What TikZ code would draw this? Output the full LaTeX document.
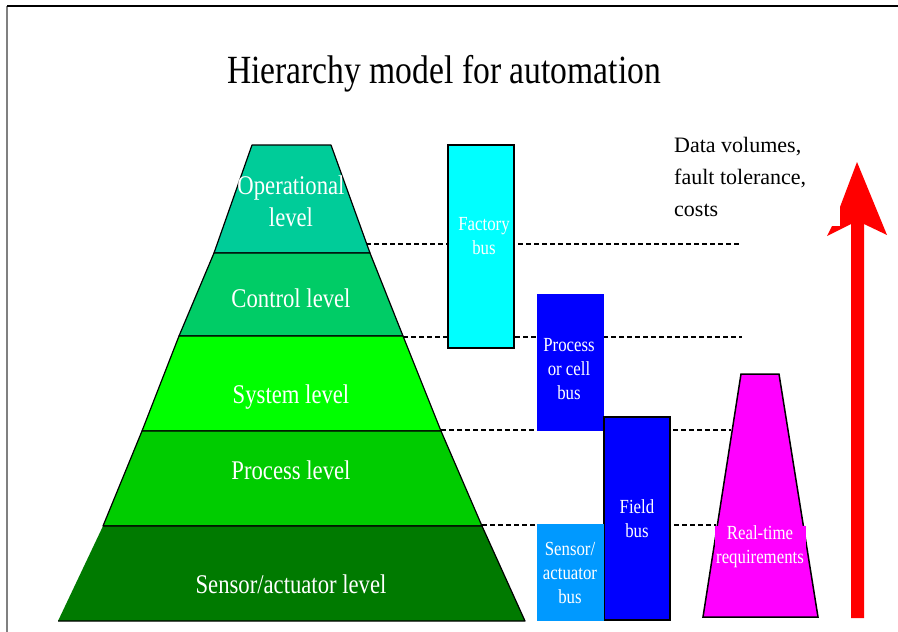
\documentclass[tikz,border=0pt]{standalone}
\usepackage{fontspec}
\setmainfont{Liberation Serif}
\newfontfamily\narrowfont[FakeStretch=0.84]{Liberation Serif}
\usetikzlibrary{positioning}

\definecolor{opgreen}{HTML}{00CC99}
\definecolor{ctrlgreen}{HTML}{00CC66}
\definecolor{sysgreen}{HTML}{00FF00}
\definecolor{procgreen}{HTML}{00CC00}
\definecolor{sensgreen}{HTML}{007A00}
\definecolor{factorycyan}{HTML}{00FFFF}
\definecolor{busblue}{HTML}{0000FF}
\definecolor{sensblue}{HTML}{0099FF}
\definecolor{rtmagenta}{HTML}{FF00FF}
\definecolor{arrowred}{HTML}{FF0000}

\tikzset{
  band/.style={draw=black,line width=1.2pt,line join=round},
  tierline/.style={line width=1.3pt,dash pattern=on 5pt off 3pt},
  levellabel/.style={text=white,align=center,inner sep=0pt,
    font=\narrowfont\fontsize{27}{32}\selectfont},
  buslabel/.style={text=white,align=center,inner sep=0pt,
    font=\narrowfont\fontsize{20}{24}\selectfont}
}

\begin{document}
\begin{tikzpicture}[x=1pt,y=-1pt]
\useasboundingbox (0,0) rectangle (898,632);
% frame
\draw[gray,line width=1.5pt] (7,6) -- (7,632);
\draw[line width=1.5pt] (7,6) -- (898,6);

\node[font=\narrowfont\fontsize{40}{48}\selectfont,anchor=base] (title) at (444,83)
  {Hierarchy model for automation};

% pyramid corners
\coordinate (p0l) at (252,145); \coordinate (p0r) at (331,145);
\coordinate (p1l) at (214,253); \coordinate (p1r) at (370,253);
\coordinate (p2l) at (179,336); \coordinate (p2r) at (403,336);
\coordinate (p3l) at (142,431); \coordinate (p3r) at (441,431);
\coordinate (p4l) at (103,526); \coordinate (p4r) at (482,526);
\coordinate (p5l) at (58,621);  \coordinate (p5r) at (525,621);

% dashed level lines
\coordinate (d1) at (366,244); \coordinate (e1) at (740,244);
\coordinate (d2) at (403,337); \coordinate (e2) at (742,337);
\coordinate (d3) at (441,430); \coordinate (e3) at (731,430);
\coordinate (d4) at (482,525); \coordinate (e4) at (716,525);
\foreach \i in {1,...,4}
  \draw[tierline] (d\i) -- (e\i);

% levels
\filldraw[band,fill=opgreen] (p0l) -- (p0r) -- (p1r) -- (p1l) -- cycle;
\filldraw[band,fill=ctrlgreen] (p1l) -- (p1r) -- (p2r) -- (p2l) -- cycle;
\filldraw[band,fill=sysgreen] (p2l) -- (p2r) -- (p3r) -- (p3l) -- cycle;
\filldraw[band,fill=procgreen] (p3l) -- (p3r) -- (p4r) -- (p4l) -- cycle;
\fill[sensgreen] (p4l) -- (p4r) -- (p5r) -- (p5l) -- cycle;
\draw[band] (p4l) -- (p4r) -- (p5r) -- (p5l);

\node[levellabel] (operational) at (291,201) {Operational\\level};
\node[levellabel] (control) at (291,298) {Control level};
\node[levellabel] (system) at (291,397) {System level};
\node[levellabel] (process) at (291,470) {Process level};
\node[levellabel] (sensor) at (291,584) {Sensor/actuator level};

% buses
\filldraw[fill=factorycyan,draw=black,line width=1.2pt] (448,145) rectangle (514,348);
\fill[busblue] (537,294) rectangle (604,431);
\filldraw[fill=busblue,draw=black,line width=1.2pt] (604,417) rectangle (670,620);
\fill[sensblue] (537,524) rectangle (604,621);

\node[buslabel] (factory) at (484,236) {Factory\\bus};
\node[buslabel] (cellbus) at (569,369) {Process\\or cell\\bus};
\node[buslabel] (fieldbus) at (637,519) {Field\\bus};
\node[buslabel] (sensbus) at (570,573) {Sensor/\\actuator\\bus};

% real-time requirements
\filldraw[fill=rtmagenta,draw=black,line width=1.5pt]
  (741,374) -- (779,374) -- (818,617) -- (703,617) -- cycle;
\node[buslabel,fill=rtmagenta,minimum width=91pt,minimum height=42pt]
  (realtime) at (760,547) {Real-time\\requirements};

\node[align=left,anchor=west,inner sep=0pt,font=\fontsize{22}{32}\selectfont]
  (costs) at (674,177) {Data volumes,\\fault tolerance,\\costs};

% rising arrow
\fill[arrowred] (857,162) -- (887,235) -- (864,224) -- (864,618) -- (851,618)
  -- (851,224) -- (827,236) -- (832,226) -- (840,226) -- (840,207) -- cycle;
\end{tikzpicture}
\end{document}
